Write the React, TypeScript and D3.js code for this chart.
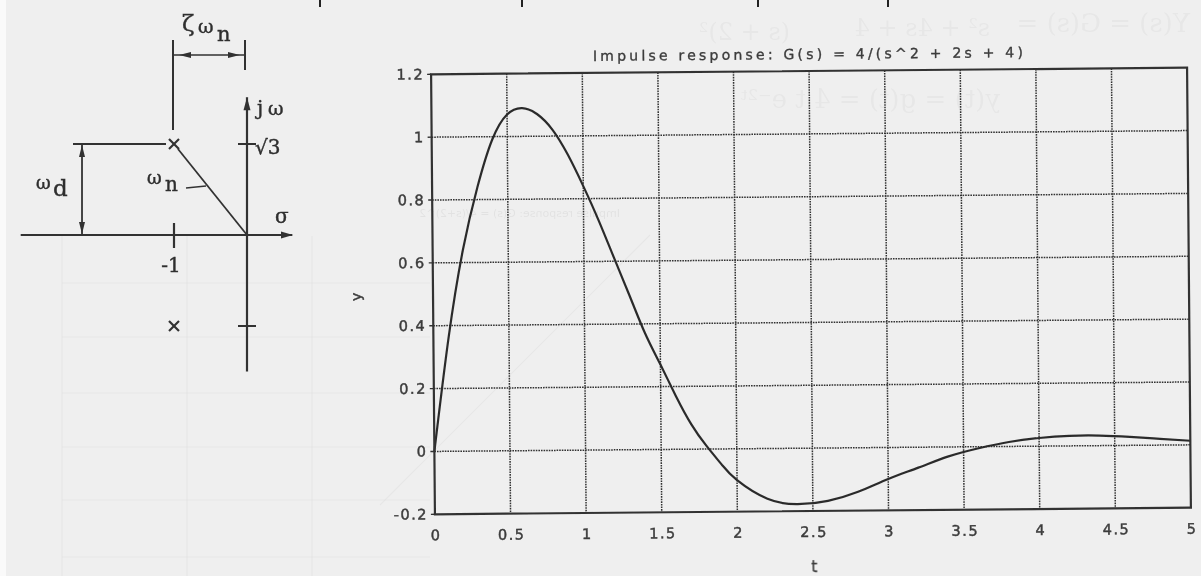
import React from 'react'
import * as d3 from 'd3'

const W = 1201
const H = 576

// impulse response, values
const timeS = [0, 0.1, 0.2, 0.3, 0.4, 0.5, 0.6, 0.7, 0.8, 0.9, 1.0, 1.1, 1.2, 1.3, 1.4, 1.5, 1.6, 1.7, 1.8, 1.9, 2.0, 2.2, 2.4, 2.6, 2.8, 3.0, 3.2, 3.4, 3.6, 3.8, 4.0, 4.2, 4.4, 4.6, 4.8, 5.0]
const response = [0, 0.36, 0.64, 0.84, 0.99, 1.07, 1.09, 1.07, 1.02, 0.94, 0.84, 0.73, 0.61, 0.49, 0.37, 0.27, 0.17, 0.08, 0.01, -0.05, -0.10, -0.16, -0.178, -0.168, -0.14, -0.10, -0.065, -0.03, -0.005, 0.014, 0.026, 0.032, 0.032, 0.027, 0.02, 0.013]

const xTicks = [0, 0.5, 1, 1.5, 2, 2.5, 3, 3.5, 4, 4.5, 5]
const xTickLabels = ['0', '0.5', '1', '1.5', '2', '2.5', '3', '3.5', '4', '4.5', '5']
const yTicks = [-0.2, 0, 0.2, 0.4, 0.6, 0.8, 1, 1.2]
const yTickLabels = ['-0.2', '0', '0.2', '0.4', '0.6', '0.8', '1', '1.2']
const plotTitle = 'Impulse response: G(s) = 4/(s^2 + 2s + 4)'

// s-plane sketch
const poles = [{ re: -1, im: 1.732 }, { re: -1, im: -1.732 }]
const imagTicks = [1.732, -1.732]
const realTicks = [-1]

const ink = '#333'
const plotFont = "'DejaVu Sans', sans-serif"
const serif = "'DejaVu Serif', serif"

function Plot() {
  const L = 433, R = 1189, T = 71, B = 511
  const x = d3.scaleLinear().domain([0, 5]).range([L, R])
  const y = d3.scaleLinear().domain([-0.2, 1.2]).range([B, T])
  const line = d3.line<number>()
    .x((d, i) => x(timeS[i]))
    .y(d => y(d))
    .curve(d3.curveNatural)
  const label = { fontFamily: plotFont, fill: '#3c3c3c', stroke: '#3c3c3c', strokeWidth: 0.45 }

  return (
    <g transform="rotate(-0.5 811 291)">
      {xTicks.slice(1, -1).map(t => (
        <line key={'gx' + t} x1={x(t)} x2={x(t)} y1={T} y2={B}
          stroke="#333" strokeWidth={1.5} strokeDasharray="1.6 1" />
      ))}
      {yTicks.slice(1, -1).map(v => (
        <line key={'gy' + v} x1={L} x2={R} y1={y(v)} y2={y(v)}
          stroke="#333" strokeWidth={1.5} strokeDasharray="1.6 1" />
      ))}
      <path d={line(response) || ''} fill="none" stroke="#2c2c2c" strokeWidth={2.2} />
      <rect x={L} y={T} width={R - L} height={B - T} fill="none" stroke={ink} strokeWidth={2.2} />

      {yTicks.map((v, i) => (
        <g key={'ty' + v}>
          <line x1={L - 4} x2={L} y1={y(v)} y2={y(v)} stroke={ink} strokeWidth={1.4} />
          <text x={L - 7} y={y(v) + 5} textAnchor="end" fontSize={14.5} letterSpacing={1.5} {...label}>
            {yTickLabels[i]}
          </text>
        </g>
      ))}
      {xTicks.map((t, i) => (
        <text key={'tx' + t} x={x(t) + 1} y={B + 26} textAnchor="middle" fontSize={14.5} letterSpacing={1.5} {...label}>
          {xTickLabels[i]}
        </text>
      ))}

      <text x={810} y={59} textAnchor="middle" fontSize={14} textLength={430} lengthAdjust="spacing"
        {...label} strokeWidth={0.35}>{plotTitle}</text>
      <text transform={`translate(361 ${(T + B) / 2 + 2}) rotate(-90)`} textAnchor="middle" fontSize={14}
        {...label}>y</text>
      <text x={x(2.5) + 1} y={B + 61} textAnchor="middle" fontSize={15} {...label}>t</text>
    </g>
  )
}

function SPlane() {
  const sx = d3.scaleLinear().domain([-1, 0]).range([174, 247])
  const sy = d3.scaleLinear().domain([0, 1.732]).range([235, 144])
  const ox = sx(0), oy = sy(0)
  const px = sx(poles[0].re), py = sy(poles[0].im)
  const head = (tx: number, ty: number, dir: 'l' | 'r' | 'u' | 'd', len = 11, hw = 3.5) => {
    if (dir === 'r') return `M${tx},${ty}L${tx - len},${ty - hw}L${tx - len},${ty + hw}Z`
    if (dir === 'l') return `M${tx},${ty}L${tx + len},${ty - hw}L${tx + len},${ty + hw}Z`
    if (dir === 'u') return `M${tx},${ty}L${tx - hw},${ty + len}L${tx + hw},${ty + len}Z`
    return `M${tx},${ty}L${tx - hw},${ty - len}L${tx + hw},${ty - len}Z`
  }

  return (
    <g stroke={ink} fill={ink}>
      {/* axes */}
      <line x1={sx(-3.1)} x2={sx(0.62)} y1={oy} y2={oy} strokeWidth={2.2} />
      <path d={head(sx(0.63), oy, 'r', 12, 3.5)} stroke="none" />
      <line x1={ox} x2={ox} y1={sy(2.62)} y2={sy(-2.6)} strokeWidth={2.2} />
      <path d={head(ox, sy(2.62), 'u', 13, 3.5)} stroke="none" />

      {imagTicks.map(v => (
        <line key={'it' + v} x1={ox - 9} x2={ox + 9} y1={sy(v)} y2={sy(v)} strokeWidth={2} />
      ))}
      {realTicks.map(v => (
        <line key={'rt' + v} x1={sx(v)} x2={sx(v)} y1={oy - 12} y2={oy + 13} strokeWidth={2.2} />
      ))}

      {poles.map((p, i) => (
        <g key={'p' + i} strokeWidth={2.2}>
          <line x1={sx(p.re) - 5} x2={sx(p.re) + 5} y1={sy(p.im) - 5} y2={sy(p.im) + 5} />
          <line x1={sx(p.re) - 5} x2={sx(p.re) + 5} y1={sy(p.im) + 5} y2={sy(p.im) - 5} />
        </g>
      ))}

      {/* wn radius */}
      <line x1={px + 4} y1={py + 5} x2={ox} y2={oy} strokeWidth={1.8} />
      <line x1={186} y1={188} x2={206} y2={186} strokeWidth={1.6} />

      {/* zeta*wn dimension */}
      <line x1={px - 1} x2={px - 1} y1={40} y2={130} strokeWidth={2} />
      <line x1={ox - 2} x2={ox - 2} y1={40} y2={70} strokeWidth={2} />
      <line x1={px} x2={ox - 2} y1={55} y2={55} strokeWidth={1.6} />
      <path d={head(px + 5, 55, 'l', 12, 3)} stroke="none" />
      <path d={head(ox - 7, 55, 'r', 12, 3)} stroke="none" />

      {/* wd dimension */}
      <line x1={73} x2={px - 8} y1={py} y2={py} strokeWidth={1.8} />
      <line x1={82} x2={82} y1={py} y2={oy} strokeWidth={1.8} />
      <path d={head(82, py + 1, 'u', 12, 3)} stroke="none" />
      <path d={head(82, oy - 1, 'd', 12, 3)} stroke="none" />

      <g fill="#2e2e2e" stroke="#2e2e2e" strokeWidth={0.4} fontFamily={serif}>
        <text x={182} y={31} fontSize={23}>ζ</text>
        <text x={198} y={33} fontSize={19}>ω</text>
        <text x={217} y={41} fontSize={21}>n</text>

        <text x={36} y={189} fontSize={18}>ω</text>
        <text x={53} y={196} fontSize={23}>d</text>

        <text x={147} y={184} fontSize={18}>ω</text>
        <text x={165} y={191} fontSize={20}>n</text>

        <text x={257} y={115} fontSize={20}>j</text>
        <text x={268} y={115} fontSize={19}>ω</text>
        <text x={255} y={154} fontSize={20}>√3</text>
        <text x={275} y={223} fontSize={20}>σ</text>
        <text x={sx(-1) - 3} y={272} fontSize={20} textAnchor="middle">-1</text>
      </g>
    </g>
  )
}

function Ghosts() {
  // faint show-through from the reverse side of the scanned page
  const faint = { fill: '#000', opacity: 0.03, fontFamily: serif }
  return (
    <g>
      <g stroke="#000" strokeOpacity={0.035} strokeWidth={1.2}>
        {[62, 187, 312].map(gx => <line key={'v' + gx} x1={gx} x2={gx} y1={236} y2={576} />)}
        {[283, 337, 393, 447, 500, 557].map(gy => <line key={'h' + gy} x1={62} x2={430} y1={gy} y2={gy} />)}
        <line x1={380} y1={505} x2={650} y2={235} />
      </g>
      <g transform="scale(-1 1)">
        <text x={-1190} y={32} fontSize={26} {...faint}>Y(s) = G(s) = </text>
        <text x={-990} y={36} fontSize={24} {...faint}>s² + 4s + 4</text>
        <text x={-790} y={40} fontSize={24} {...faint}>(s + 2)²</text>
        <text x={-1000} y={108} fontSize={26} {...faint}>y(t) = g(t) = 4 t e⁻²ᵗ</text>
        <text x={-620} y={217} fontSize={11} fontFamily={plotFont} fill="#000" opacity={0.05}>Impulse response: G(s) = 4/(s+2)^2</text>
      </g>
    </g>
  )
}

export default function App() {
  return (
    <div style={{ position: 'absolute', left: 0, top: 0, width: W, height: H }}>
      <svg width={W} height={H} viewBox={`0 0 ${W} ${H}`} style={{ display: 'block' }}>
        <defs>
          <filter id="scan" x="-5%" y="-5%" width="110%" height="110%">
            <feGaussianBlur stdDeviation={0.5} />
          </filter>
        </defs>
        <rect width={W} height={H} fill="#efefef" />
        <rect width={6} height={H} fill="#fafafa" />
        <g filter="url(#scan)">
          <Ghosts />
          <g stroke="#222" strokeWidth={2}>
            {[320, 522, 758, 888].map(mx => <line key={mx} x1={mx} x2={mx} y1={0} y2={7} />)}
          </g>
          <SPlane />
          <Plot />
        </g>
      </svg>
    </div>
  )
}
